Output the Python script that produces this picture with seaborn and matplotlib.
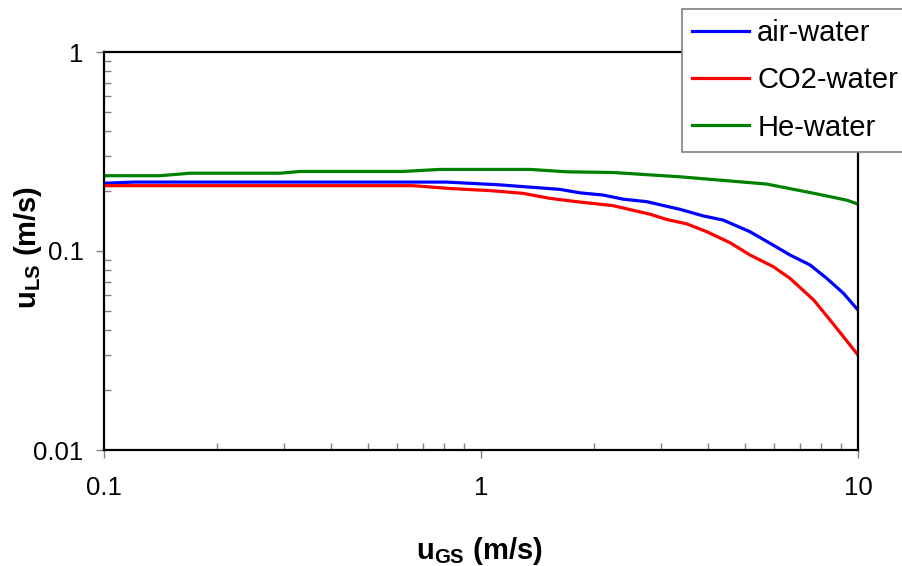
import numpy as np
import matplotlib
matplotlib.use("Agg")
import matplotlib.pyplot as plt
from matplotlib.ticker import LogLocator, NullFormatter, FixedLocator, FixedFormatter
import pandas as pd
import seaborn as sns

# values (log-log)
air_x = [0.1, 0.12, 0.81, 1.12, 1.62, 1.83, 2.11, 2.39, 2.75, 3.37, 3.89, 4.39,
         5.17, 5.96, 6.6, 7.46, 8.26, 9.15, 10]
air_y = [0.219, 0.222, 0.222, 0.215, 0.204, 0.196, 0.191, 0.182, 0.177, 0.162, 0.150,
         0.143, 0.125, 0.107, 0.0955, 0.0851, 0.0729, 0.0613, 0.0505]

co2_x = [0.1, 0.66, 0.83, 1.06, 1.29, 1.52, 1.79, 2.24, 2.81, 3.11, 3.51, 3.97, 4.58,
         5.17, 5.96, 6.6, 7.63, 8.64, 10]
co2_y = [0.213, 0.213, 0.206, 0.201, 0.195, 0.184, 0.177, 0.169, 0.153, 0.144, 0.137,
         0.125, 0.110, 0.0955, 0.0834, 0.0729, 0.0567, 0.0425, 0.030]

he_x = [0.1, 0.141, 0.169, 0.293, 0.331, 0.62, 0.78, 1.35, 1.69, 2.24, 3.37, 5.72,
        7.63, 9.35, 10]
he_y = [0.239, 0.239, 0.246, 0.246, 0.251, 0.251, 0.257, 0.257, 0.250, 0.248, 0.236,
        0.217, 0.195, 0.180, 0.172]

series = ["air-water", "CO2-water", "He-water"]
colors = {"air-water": "#0000FF", "CO2-water": "#FF0000", "He-water": "#008000"}

df = pd.concat([
    pd.DataFrame({"x": air_x, "y": air_y, "fluid": "air-water"}),
    pd.DataFrame({"x": co2_x, "y": co2_y, "fluid": "CO2-water"}),
    pd.DataFrame({"x": he_x, "y": he_y, "fluid": "He-water"}),
])

plt.rcParams["font.family"] = ["Liberation Sans", "DejaVu Sans"]
plt.rcParams["mathtext.fontset"] = "custom"
plt.rcParams["mathtext.rm"] = "Liberation Sans"
plt.rcParams["mathtext.bf"] = "Liberation Sans:bold"

fig = plt.figure(figsize=(9.03, 5.66), dpi=100)
ax = fig.add_axes([104 / 903, 116 / 566, 754 / 903, 398 / 566])

sns.lineplot(data=df, x="x", y="y", hue="fluid", hue_order=series, palette=colors,
             estimator=None, sort=False, linewidth=2.3, legend=False, ax=ax)

ax.set_xscale("log")
ax.set_yscale("log")
ax.set_xlim(0.1, 10)
ax.set_ylim(0.01, 1)

ax.xaxis.set_major_locator(FixedLocator([0.1, 1, 10]))
ax.xaxis.set_major_formatter(FixedFormatter(["0.1", "1", "10"]))
ax.yaxis.set_major_locator(FixedLocator([0.01, 0.1, 1]))
ax.yaxis.set_major_formatter(FixedFormatter(["0.01", "0.1", "1"]))
for axis in (ax.xaxis, ax.yaxis):
    axis.set_minor_locator(LogLocator(base=10, subs=np.arange(2, 10)))
    axis.set_minor_formatter(NullFormatter())

ax.tick_params(which="major", direction="out", length=5.8, width=1, color="#808080",
               labelsize=18.5)
ax.tick_params(axis="x", which="major", pad=13)
ax.tick_params(axis="y", which="major", pad=9)
ax.tick_params(which="minor", direction="in", length=5, width=1, color="#808080")

for sp in ax.spines.values():
    sp.set_color("black")
    sp.set_linewidth(1.6)

ax.set_xlabel("")
ax.set_ylabel("")
fig.text(479 / 903, 1 - 551 / 566, r"$\mathbf{u}_{\mathbf{GS}}$ (m/s)", ha="center",
         va="center", fontsize=21, fontweight="bold")
fig.text(28 / 903, 1 - 247 / 566, r"$\mathbf{u}_{\mathbf{LS}}$ (m/s)", ha="center",
         va="center", fontsize=21, fontweight="bold", rotation=90)

leg = ax.legend(ax.get_lines(), series, loc="upper left",
                bbox_to_anchor=(682 / 903, 1 - 9 / 566), bbox_transform=fig.transFigure,
                borderaxespad=0, fontsize=21, handlelength=1.95, handletextpad=0.28,
                borderpad=0.35, labelspacing=0.66, fancybox=False, framealpha=1,
                edgecolor="#808080")
leg.get_frame().set_linewidth(1.2)
leg.set_zorder(5)

fig.savefig("out.png", dpi=100)
